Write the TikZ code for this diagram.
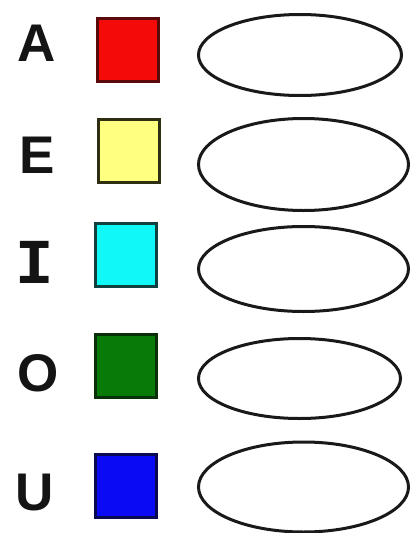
\documentclass[tikz,border=0pt]{standalone}
\usepackage{fontspec}
\setmainfont{Liberation Sans}
\newfontfamily\monofont{Liberation Mono}
\usetikzlibrary{shapes.geometric}
\definecolor{cRed}{HTML}{F50A0A}
\definecolor{bRed}{HTML}{5A0A0A}
\definecolor{cYel}{HTML}{FFFF80}
\definecolor{bYel}{HTML}{2E2E10}
\definecolor{cCya}{HTML}{10F8F8}
\definecolor{bCya}{HTML}{104040}
\definecolor{cGrn}{HTML}{087A08}
\definecolor{bGrn}{HTML}{0A300A}
\definecolor{cBlu}{HTML}{0A0AF5}
\definecolor{bBlu}{HTML}{0A0A50}
\tikzset{
  swatch/.style={draw, line width=3pt, minimum width=61pt, minimum height=63pt, inner sep=0pt, outer sep=0pt},
  oval/.style={draw=black!90, line width=3pt, ellipse, inner sep=0pt, outer sep=0pt, fill=white},
  letter/.style={font=\fontsize{53}{53}\selectfont\bfseries, inner sep=0pt, text=black!92}
}
\begin{document}
\begin{tikzpicture}[x=1pt,y=-1pt]
\useasboundingbox[fill=white] (0,0) rectangle (414,533);
% letters
\node[letter] (la) at (37,43) {A};
\node[letter] (le) at (37,155) {E};
\node[letter, font=\monofont\fontsize{64}{64}\selectfont\bfseries] (li) at (35,262) {I};
\node[letter] (lo) at (38,373) {O};
\node[letter] (lu) at (35,493) {U};
% swatches
\node[swatch, fill=cRed, draw=bRed] (sa) at (127.5,49.5) {};
\node[swatch, fill=cYel, draw=bYel] (se) at (128.5,151) {};
\node[swatch, fill=cCya, draw=bCya] (si) at (126,255) {};
\node[swatch, fill=cGrn, draw=bGrn] (so) at (126,365.5) {};
\node[swatch, fill=cBlu, draw=bBlu] (su) at (125.5,486) {};
% ovals
\node[oval, minimum width=203pt, minimum height=81pt] (ea) at (300,55) {};
\node[oval, minimum width=210pt, minimum height=92pt] (ee) at (303.5,164.5) {};
\node[oval, minimum width=210pt, minimum height=85pt] (ei) at (303.5,269) {};
\node[oval, minimum width=202pt, minimum height=80pt] (eo) at (299.5,378.5) {};
\node[oval, minimum width=210pt, minimum height=90pt] (eu) at (303.5,487) {};
\end{tikzpicture}
\end{document}
